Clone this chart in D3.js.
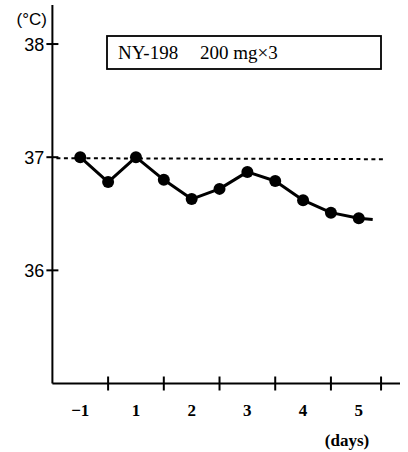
<!DOCTYPE html>
<html><head><meta charset="utf-8">
<script src="https://cdn.jsdelivr.net/npm/d3@7/dist/d3.min.js"></script>
<style>body{margin:0;background:#fff}svg{display:block}</style>
</head><body>
<script>
// ---- data ----
const dayLabels = ["\u22121", "1", "2", "3", "4", "5"];
const dayLabelPos = [0.5, 1.5, 2.5, 3.5, 4.5, 5.5];
const dayTickPos = [1, 2, 3, 4, 5, 5.9];
const measurePos = [0.5, 1, 1.5, 2, 2.5, 3, 3.5, 4, 4.5, 5, 5.5];
const temps = [37.0, 36.78, 37.0, 36.80, 36.63, 36.72, 36.87, 36.79, 36.62, 36.51, 36.46];
const tailPos = 5.75, tailTemp = 36.45;
const yTicks = [36, 37, 38];
const refTemp = 37;
const legendText = ["NY-198", "200 mg\u00d73"];

const W = 408, H = 452;
const svg = d3.select("body").append("svg").attr("width", W).attr("height", H);
const x = d3.scaleLinear().domain([0, 6.24]).range([52.4, 400]);
const y = d3.scaleLinear().domain([35, 38.345]).range([383.5, 5]);

// axes
svg.append("line").attr("x1", x(0)).attr("x2", x(0)).attr("y1", y(38.345)).attr("y2", y(35))
  .attr("stroke", "#000").attr("stroke-width", 2);
svg.append("line").attr("x1", x(0)).attr("x2", x(6.24)).attr("y1", y(35)).attr("y2", y(35))
  .attr("stroke", "#000").attr("stroke-width", 2);

// y ticks
svg.selectAll(".yt").data(yTicks).join("line")
  .attr("x1", x(0) - 6).attr("x2", x(0) + 6).attr("y1", d => y(d)).attr("y2", d => y(d))
  .attr("stroke", "#000").attr("stroke-width", 2);
svg.selectAll(".yl").data(yTicks).join("text")
  .attr("x", x(0) - 8).attr("y", d => y(d) + 6.5).attr("text-anchor", "end")
  .attr("font-family", "Liberation Sans, Arial, sans-serif").attr("font-size", 18)
  .text(d => d);
svg.append("text").attr("x", 47).attr("y", 25).attr("text-anchor", "end")
  .attr("font-family", "Liberation Sans, Arial, sans-serif").attr("font-size", 17)
  .text("(\u00b0C)");

// x ticks
svg.selectAll(".xt").data(dayTickPos).join("line")
  .attr("x1", d => x(d)).attr("x2", d => x(d)).attr("y1", y(35) - 7).attr("y2", y(35) + 7)
  .attr("stroke", "#000").attr("stroke-width", 2);
svg.selectAll(".xl").data(dayLabels).join("text")
  .attr("x", (d, i) => x(dayLabelPos[i])).attr("y", 416).attr("text-anchor", "middle")
  .attr("font-family", "Liberation Serif, Times New Roman, serif").attr("font-size", 17)
  .attr("font-weight", "bold")
  .text(d => d);
svg.append("text").attr("x", 347).attr("y", 446).attr("text-anchor", "middle")
  .attr("font-family", "Liberation Serif, Times New Roman, serif").attr("font-size", 17)
  .attr("font-weight", "bold").text("(days)");

// reference dotted line
svg.append("line").attr("x1", x(0) + 4).attr("x2", 385).attr("y1", y(refTemp) + 1).attr("y2", y(refTemp) + 2)
  .attr("stroke", "#000").attr("stroke-width", 2).attr("stroke-dasharray", "4,3.5");

// legend box
svg.append("rect").attr("x", 107).attr("y", 36).attr("width", 274).attr("height", 33)
  .attr("fill", "none").attr("stroke", "#000").attr("stroke-width", 1.8);
svg.append("text").attr("x", 118).attr("y", 59)
  .attr("font-family", "Liberation Serif, Times New Roman, serif").attr("font-size", 19)
  .text(legendText[0]);
svg.append("text").attr("x", 200).attr("y", 59)
  .attr("font-family", "Liberation Serif, Times New Roman, serif").attr("font-size", 19)
  .text(legendText[1]);

// series
const pts = measurePos.map((p, i) => [p, temps[i]]);
const linePts = pts.concat([[tailPos, tailTemp]]);
svg.append("path").datum(linePts)
  .attr("d", d3.line().x(d => x(d[0])).y(d => y(d[1])))
  .attr("fill", "none").attr("stroke", "#000").attr("stroke-width", 3).attr("stroke-linejoin", "round");
svg.selectAll(".pt").data(pts).join("circle")
  .attr("cx", d => x(d[0])).attr("cy", d => y(d[1])).attr("r", 6).attr("fill", "#000");
</script>
</body></html>
